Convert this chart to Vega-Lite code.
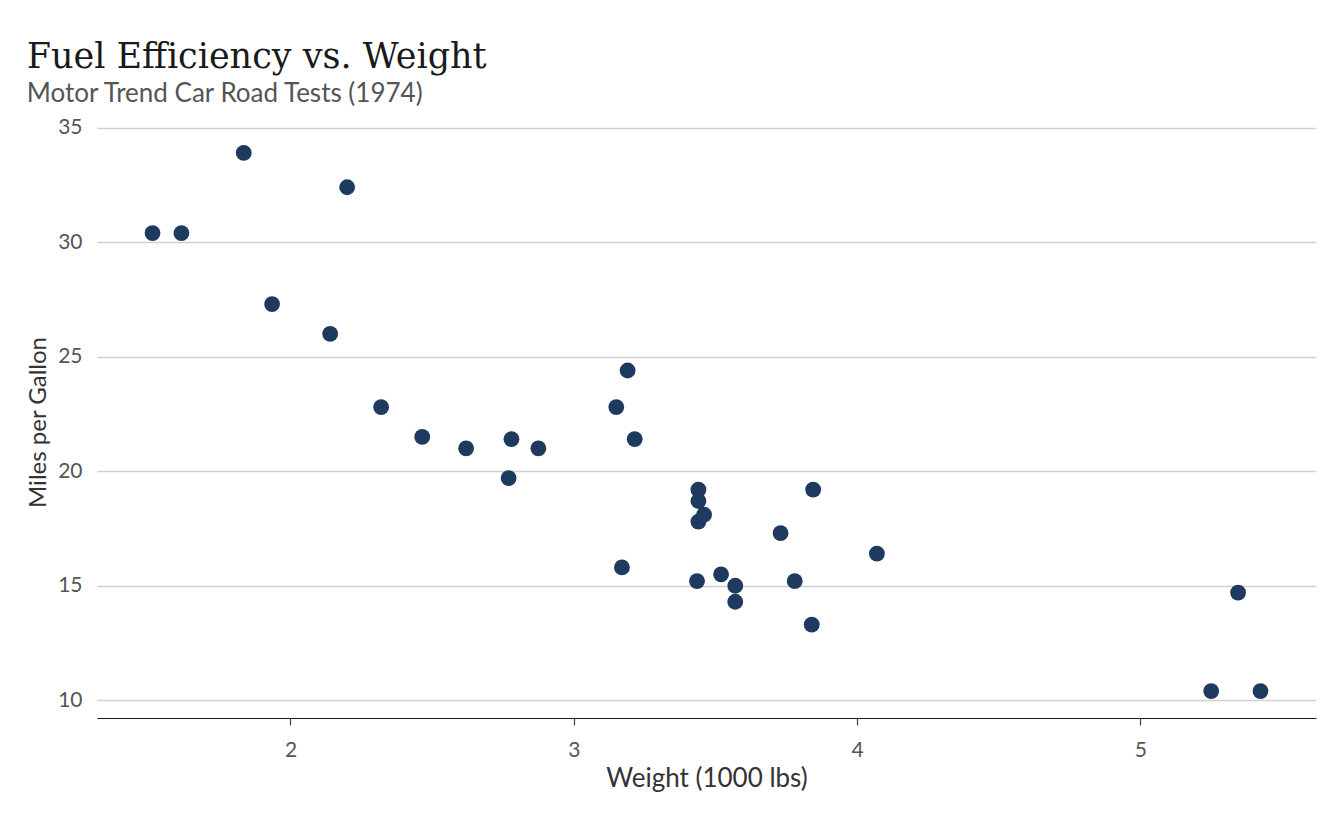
{
  "$schema": "https://vega.github.io/schema/vega-lite/v6.json",
  "width": 1219,
  "height": 592,
  "autosize": {"type": "none"},
  "padding": {"left": 97, "top": 126, "right": 28, "bottom": 112},
  "background": "white",
  "title": {
    "text": "Fuel Efficiency vs. Weight",
    "subtitle": "Motor Trend Car Road Tests (1974)",
    "anchor": "start",
    "frame": "bounds",
    "font": "DejaVu Serif",
    "fontSize": 35,
    "fontWeight": "normal",
    "color": "#1a1a1a",
    "subtitleFont": "Lato",
    "subtitleFontSize": 26,
    "subtitleColor": "#555555",
    "subtitlePadding": 6,
    "offset": 10
  },
  "data": {
    "values": [
      {"car": "Mazda RX4", "wt": 2.62, "mpg": 21.0},
      {"car": "Mazda RX4 Wag", "wt": 2.875, "mpg": 21.0},
      {"car": "Datsun 710", "wt": 2.32, "mpg": 22.8},
      {"car": "Hornet 4 Drive", "wt": 3.215, "mpg": 21.4},
      {"car": "Hornet Sportabout", "wt": 3.44, "mpg": 18.7},
      {"car": "Valiant", "wt": 3.46, "mpg": 18.1},
      {"car": "Duster 360", "wt": 3.57, "mpg": 14.3},
      {"car": "Merc 240D", "wt": 3.19, "mpg": 24.4},
      {"car": "Merc 230", "wt": 3.15, "mpg": 22.8},
      {"car": "Merc 280", "wt": 3.44, "mpg": 19.2},
      {"car": "Merc 280C", "wt": 3.44, "mpg": 17.8},
      {"car": "Merc 450SE", "wt": 4.07, "mpg": 16.4},
      {"car": "Merc 450SL", "wt": 3.73, "mpg": 17.3},
      {"car": "Merc 450SLC", "wt": 3.78, "mpg": 15.2},
      {"car": "Cadillac Fleetwood", "wt": 5.25, "mpg": 10.4},
      {"car": "Lincoln Continental", "wt": 5.424, "mpg": 10.4},
      {"car": "Chrysler Imperial", "wt": 5.345, "mpg": 14.7},
      {"car": "Fiat 128", "wt": 2.2, "mpg": 32.4},
      {"car": "Honda Civic", "wt": 1.615, "mpg": 30.4},
      {"car": "Toyota Corolla", "wt": 1.835, "mpg": 33.9},
      {"car": "Toyota Corona", "wt": 2.465, "mpg": 21.5},
      {"car": "Dodge Challenger", "wt": 3.52, "mpg": 15.5},
      {"car": "AMC Javelin", "wt": 3.435, "mpg": 15.2},
      {"car": "Camaro Z28", "wt": 3.84, "mpg": 13.3},
      {"car": "Pontiac Firebird", "wt": 3.845, "mpg": 19.2},
      {"car": "Fiat X1-9", "wt": 1.935, "mpg": 27.3},
      {"car": "Porsche 914-2", "wt": 2.14, "mpg": 26.0},
      {"car": "Lotus Europa", "wt": 1.513, "mpg": 30.4},
      {"car": "Ford Pantera L", "wt": 3.17, "mpg": 15.8},
      {"car": "Ferrari Dino", "wt": 2.77, "mpg": 19.7},
      {"car": "Maserati Bora", "wt": 3.57, "mpg": 15.0},
      {"car": "Volvo 142E", "wt": 2.78, "mpg": 21.4}
    ]
  },
  "mark": {"type": "circle", "size": 250, "color": "#1f3a5f", "opacity": 1},
  "encoding": {
    "x": {
      "field": "wt",
      "type": "quantitative",
      "title": "Weight (1000 lbs)",
      "scale": {"domain": [1.317, 5.62], "nice": false, "zero": false},
      "axis": {
        "values": [2, 3, 4, 5],
        "grid": false,
        "domain": true,
        "domainColor": "#1a1a1a",
        "domainWidth": 1.2,
        "ticks": true,
        "tickColor": "#444444",
        "tickSize": 7,
        "tickWidth": 1.2,
        "labelPadding": 14,
        "titleFontSize": 26,
        "titlePadding": 5
      }
    },
    "y": {
      "field": "mpg",
      "type": "quantitative",
      "title": "Miles per Gallon",
      "scale": {"domain": [9.225, 35.075], "nice": false, "zero": false},
      "axis": {
        "values": [10, 15, 20, 25, 30, 35],
        "grid": true,
        "gridColor": "#d0d0d0",
        "gridWidth": 1.5,
        "domain": false,
        "ticks": false,
        "labelPadding": 15,
        "titleFontSize": 24,
        "titlePadding": 7
      }
    },
    "tooltip": [
      {"field": "car", "title": "Car"},
      {"field": "wt", "title": "Weight"},
      {"field": "mpg", "title": "MPG"}
    ]
  },
  "config": {
    "view": {"stroke": null},
    "axis": {
      "labelFont": "Lato",
      "labelFontSize": 21,
      "labelColor": "#555555",
      "titleFont": "Lato",
      "titleFontWeight": "normal",
      "titleColor": "#333333"
    }
  }
}
